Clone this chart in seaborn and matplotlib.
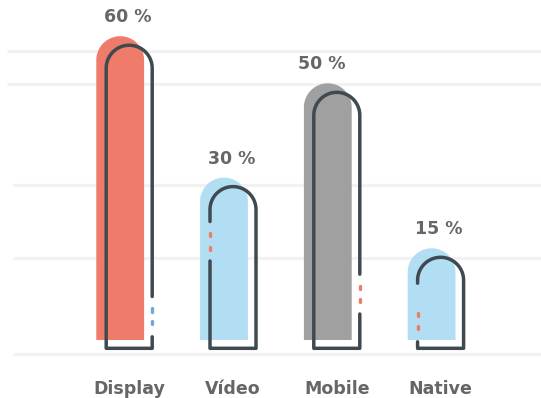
import numpy as np
import pandas as pd
import matplotlib
matplotlib.use("Agg")
import matplotlib.pyplot as plt
import seaborn as sns
from matplotlib.path import Path
from matplotlib.patches import PathPatch

# ---- data ----
categories = ["Display", "Vídeo", "Mobile", "Native"]
values = [60, 30, 50, 15]
value_labels = ["60 %", "30 %", "50 %", "15 %"]

# ---- style ----
fill_colors = ["#EF7B6B", "#B2DEF4", "#A0A0A0", "#B2DEF4"]
dot_colors = ["#6FA6DA", "#EF7B6B", "#EF7B6B", "#EF7B6B"]
outline_color = "#3E4A50"
text_color = "#666666"
grid_color = "#F2F2F2"
gap_side = ["right", "left", "right", "left"]
gap_px = [(11.5, 51.8), (87.3, 126.8), (34.3, 74.1), (6.5, 65.1)]   # px above outline bottom
dots_px = [(25.8, 38.3), (100, 113.8), (47.8, 60.8), (20.5, 33.8)]
label_dx_px = [8, 8, -6, 7]

W, H = 541, 398
PX_X = 103.8   # pixels per category step
PX_Y = 4.713   # pixels per value unit
X0, Y0 = 120.2, 319.0  # pixel of first category / zero

sns.set_theme(style="white")
plt.rcParams["font.family"] = ["DejaVu Sans"]

df = pd.DataFrame({"cat": categories, "val": values})
fig = plt.figure(figsize=(W / 100, H / 100), dpi=100)
ax = fig.add_axes([0, 0, 1, 1])
sns.barplot(data=df, x="cat", y="val", hue="cat", palette=fill_colors,
            saturation=1, legend=False, width=47.8 / PX_X, ax=ax)

ax.set_xlim(-X0 / PX_X, (W - X0) / PX_X)
ax.set_ylim(-(H - Y0) / PX_Y, Y0 / PX_Y)
ax.axis("off")

def py(p):  # pixel row -> data y
    return (Y0 - p) / PX_Y

# gridlines (decorative)
grid_rows = [51, 84, 185, 258, 354]
grid_start = [7, 7, 13, 13, 13]
for r, s in zip(grid_rows, grid_start):
    ax.hlines(py(r), (s - X0) / PX_X, (W - X0) / PX_X + 1, color=grid_color,
              lw=2.3, zorder=0)

fill_base = py(340)
out_bottom = py(348.3)
patches = sorted(ax.patches, key=lambda p: p.get_x())
for i, p in enumerate(patches):
    x, w, h = p.get_x(), p.get_width(), p.get_height()
    color = p.get_facecolor()
    p.remove()
    cx = x + w / 2
    rx = w / 2
    ry = rx * PX_X / PX_Y
    top = h
    th = np.linspace(np.pi, 0, 60)
    arc_x = cx + rx * np.cos(th)
    arc_y = top - ry + ry * np.sin(th)
    verts = [(cx - rx, fill_base)] + list(zip(arc_x, arc_y)) + [(cx + rx, fill_base), (cx - rx, fill_base)]
    codes = [Path.MOVETO] + [Path.LINETO] * (len(verts) - 2) + [Path.CLOSEPOLY]
    ax.add_patch(PathPatch(Path(verts, codes), facecolor=color, edgecolor="none", zorder=2))

    # outline (offset)
    ocx = cx + 9 / PX_X
    orx = 23 / PX_X
    ory = 23 / PX_Y
    otop = top - 9 / PX_Y
    ax_arc = ocx + orx * np.cos(th)
    ay_arc = otop - ory + ory * np.sin(th)
    L, R = ocx - orx, ocx + orx
    g_lo = out_bottom + gap_px[i][0] / PX_Y
    g_hi = out_bottom + gap_px[i][1] / PX_Y
    if gap_side[i] == "right":
        xs = [R, R, L, L] + list(ax_arc) + [R, R]
        ys = [g_lo, out_bottom, out_bottom, otop - ory] + list(ay_arc) + [otop - ory, g_hi]
        dx_line = R
    else:
        xs = [L, L] + list(ax_arc) + [R, R, L, L]
        ys = [g_hi, otop - ory] + list(ay_arc) + [otop - ory, out_bottom, out_bottom, g_lo]
        dx_line = L
    ax.plot(xs, ys, color=outline_color, lw=2.5, solid_capstyle="round",
            solid_joinstyle="round", zorder=3)
    for d in dots_px[i]:
        yc = out_bottom + d / PX_Y
        ax.plot([dx_line, dx_line], [yc - 1.6 / PX_Y, yc + 1.6 / PX_Y], color=dot_colors[i],
                lw=2.4, solid_capstyle="round", zorder=3)

    ax.text(cx + label_dx_px[i] / PX_X, top + 14 / PX_Y, value_labels[i], ha="center",
            va="baseline", fontsize=12.5, fontweight="bold", color=text_color, zorder=4)
    ax.text(ocx, py(394), categories[i], ha="center", va="baseline", fontsize=12.5,
            fontweight="bold", color=text_color, zorder=4)

fig.savefig("out.png", dpi=100)
